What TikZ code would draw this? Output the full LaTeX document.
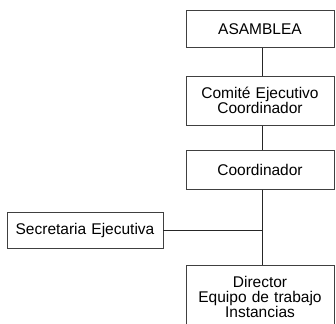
\documentclass[tikz,border=0pt]{standalone}
\usepackage{fontspec}
\setmainfont{Liberation Sans}
\usetikzlibrary{positioning}

\begin{document}
\begin{tikzpicture}[
    x=1pt, y=-1pt,
    every node/.style={
        font=\fontsize{15.5}{15}\selectfont
    },
    unit/.style={
        minimum width=148pt,
        text width=140pt,
        text centered,
        inner sep=0pt,
        rectangle,
        draw=black!75,
        line width=0.9pt
    },
    link/.style={
        draw=black!85,
        line width=0.8pt
    }
]
\useasboundingbox (0,0) rectangle (336,323);

\node (asamblea)   [unit, minimum height=37pt, anchor=north] at (260,10) {ASAMBLEA};
\node (comite)     [unit, minimum height=49pt, below=28pt of asamblea] {Comité Ejecutivo\\Coordinador};
\node (coord)      [unit, minimum height=39pt, below=24pt of comite] {Coordinador};
\node (director)   [unit, minimum height=64pt, below=75pt of coord] {Director\\Equipo de trabajo\\Instancias};
\node (secretaria) [unit, minimum width=156pt, text width=150pt, minimum height=36pt] at (85,230) {Secretaria Ejecutiva};

\coordinate (trunk) at ([xshift=2pt]coord.south);

\draw[link] ([xshift=2pt]asamblea.south) -- ([xshift=2pt]comite.north);
\draw[link] ([xshift=2pt]comite.south) -- ([xshift=2pt]coord.north);
\draw[link] (trunk) -- ([xshift=2pt]director.north);
\draw[link] (secretaria.east) -- (secretaria.east -| trunk);
\end{tikzpicture}
\end{document}
